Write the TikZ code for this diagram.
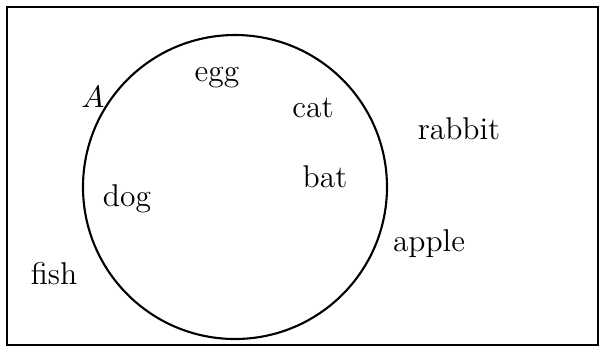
\documentclass[tikz,border=0pt]{standalone}
\usepackage{tikz}
\usetikzlibrary{positioning}
\tikzset{
  word/.style={inner sep=1pt, font=\fontsize{11.2}{13}\selectfont},
  setcircle/.style={draw, line width=0.75pt},
  universe/.style={draw, line width=0.6pt}
}

\begin{document}
\begin{tikzpicture}[x=0.0125cm, y=-0.0125cm]
\useasboundingbox (0,0) rectangle (604,351);
\node[universe, minimum width=591*0.0125cm, minimum height=338*0.0125cm, inner sep=0pt] (U) at (302.5,176) {};
\node[setcircle, circle, minimum size=304*0.0125cm, inner sep=0pt] (A) at (235,187) {};
\node[word] (lblA) at (93,97) {$A$};
\node[word] (egg) at (217,78) {egg};
\node[word] (cat) at (313,108) {cat};
\node[word] (rabbit) at (459,129) {rabbit};
\node[word] (bat) at (325,177) {bat};
\node[word] (dog) at (127,199) {dog};
\node[word] (apple) at (429,244) {apple};
\node[word] (fish) at (54,274) {fish};
\end{tikzpicture}
\end{document}
